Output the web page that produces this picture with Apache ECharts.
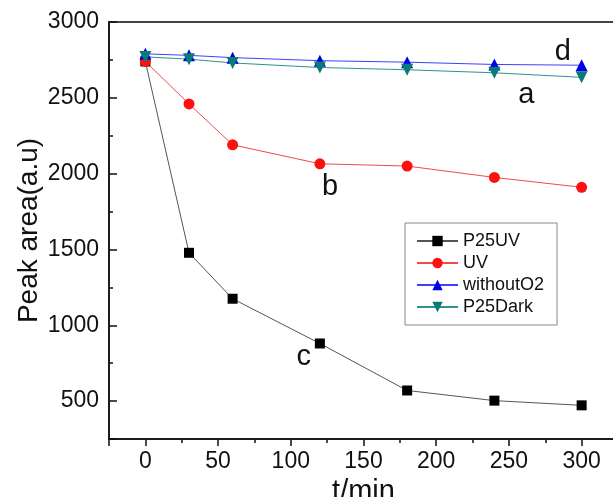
<!DOCTYPE html>
<html>
<head>
<meta charset="utf-8">
<script src="https://cdn.jsdelivr.net/npm/echarts@6/dist/echarts.min.js"></script>
<style>
  html, body { margin: 0; padding: 0; background: #fff; }
  #main { width: 613px; height: 497px; }
</style>
</head>
<body>
<div id="main"></div>
<script>
// 数据
var times = [0, 30, 60, 120, 180, 240, 300];
var p25uv = [2740, 1478, 1175, 880, 570, 503, 472];
var uv = [2740, 2460, 2190, 2065, 2050, 1975, 1910];
var withoutO2 = [2790, 2780, 2765, 2745, 2735, 2720, 2715];
var p25dark = [2770, 2755, 2730, 2700, 2685, 2665, 2635];
// 曲线标注 (字母, x, y) 数据坐标
var notes = [['d', 287, 2800], ['a', 262, 2518], ['b', 127, 1911], ['c', 109, 790]];

var font = 'Liberation Sans, Arial, sans-serif';

function pairs(ys) {
  var out = [];
  for (var i = 0; i < times.length; i++) out.push([times[i], ys[i]]);
  return out;
}

function lineSeries(name, ys, color, lineColor, symbol, size, rotate) {
  return {
    name: name,
    type: 'line',
    data: pairs(ys),
    symbol: symbol,
    symbolSize: size,
    symbolRotate: rotate || 0,
    itemStyle: { color: color },
    lineStyle: { color: lineColor, width: 1 },
    emphasis: { disabled: true },
    z: 3
  };
}

var chart = echarts.init(document.getElementById('main'));

var option = {
  animation: false,
  backgroundColor: '#fff',
  textStyle: { fontFamily: font },
  grid: {
    left: 109, top: 22, right: -5, bottom: 58,
    outerBoundsMode: 'none', containLabel: false,
    show: true, borderColor: '#444', borderWidth: 2, backgroundColor: 'transparent'
  },
  legend: {
    orient: 'vertical',
    left: 405, top: 223,
    padding: [9, 13, 9, 11],
    itemWidth: 41, itemHeight: 13, itemGap: 4,
    borderColor: '#888', borderWidth: 1,
    textStyle: { fontSize: 18, color: '#111', fontFamily: font, lineHeight: 18 },
    data: ['P25UV', 'UV', 'withoutO2', 'P25Dark']
  },
  xAxis: [{
    type: 'value',
    min: -25, max: 325, interval: 25,
    name: 't/min', nameLocation: 'middle', nameGap: 31,
    nameTextStyle: { fontSize: 29, color: '#111', fontFamily: font },
    axisLine: { onZero: false, lineStyle: { color: '#111', width: 1.5 } },
    axisTick: { length: 4, lineStyle: { color: '#111', width: 1.5 } },
    axisLabel: {
      fontSize: 23, color: '#111', margin: 11, fontFamily: font,
      formatter: function (v) { return (v >= 0 && v % 50 === 0) ? String(v) : ''; }
    },
    splitLine: { show: false }
  }, {
    type: 'value',
    min: -25, max: 325, minInterval: 50, maxInterval: 50,
    position: 'bottom',
    axisLine: { show: false, onZero: false },
    axisTick: { length: 7, lineStyle: { color: '#111', width: 1.5 } },
    axisLabel: { show: false },
    splitLine: { show: false }
  }],
  yAxis: [{
    type: 'value',
    min: 250, max: 3000, interval: 250,
    name: 'Peak area(a.u)', nameLocation: 'middle', nameGap: 66, nameMoveOverlap: false,
    nameTextStyle: { fontSize: 28, color: '#111', fontFamily: font },
    axisLine: { onZero: false, lineStyle: { color: '#111', width: 1.5 } },
    axisTick: { inside: true, length: 4, lineStyle: { color: '#111', width: 1.5 } },
    axisLabel: {
      fontSize: 23, color: '#111', margin: 10, fontFamily: font,
      formatter: function (v) { return (v % 500 === 0) ? String(v) : ''; }
    },
    splitLine: { show: false }
  }, {
    type: 'value',
    min: 250, max: 3000, minInterval: 500, maxInterval: 500,
    position: 'left',
    axisLine: { show: false, onZero: false },
    axisTick: { inside: true, length: 8, lineStyle: { color: '#111', width: 1.5 } },
    axisLabel: { show: false },
    splitLine: { show: false }
  }],
  series: [
    lineSeries('P25UV', p25uv, '#000', '#555', 'rect', 10),
    lineSeries('UV', uv, '#ff1010', '#f04a4a', 'circle', 11),
    lineSeries('withoutO2', withoutO2, '#0000ee', '#4040ff', 'triangle', 12),
    lineSeries('P25Dark', p25dark, '#0a7a78', '#2e9490', 'triangle', 12, 180)
  ]
};

chart.setOption(option);

// 标注字母
var g = [];
notes.forEach(function (n) {
  var p = chart.convertToPixel({ xAxisIndex: 0, yAxisIndex: 0 }, [n[1], n[2]]);
  g.push({
    type: 'text', x: p[0], y: p[1], z: 10,
    style: { text: n[0], font: '29px ' + font, fill: '#111', align: 'center', verticalAlign: 'middle' }
  });
});
chart.setOption({ graphic: g });
</script>
</body>
</html>
